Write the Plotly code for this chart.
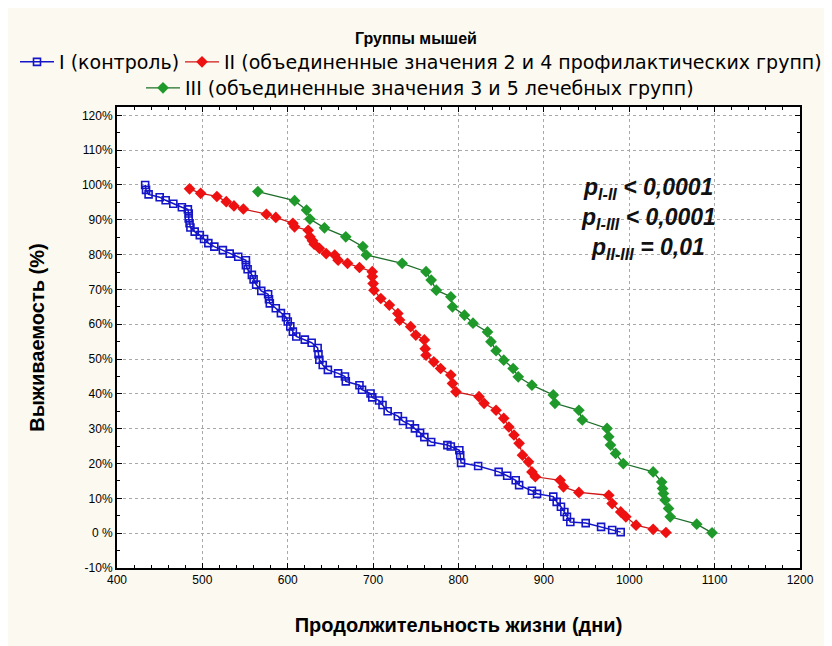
import plotly.graph_objects as go

# ---------------- data ----------------
group1_days = [433, 434, 437, 450, 457, 466, 476, 483, 484, 484, 485, 486, 491, 497, 502, 507, 514, 524,
               532, 542, 551, 551, 553, 558, 560, 563, 569, 577, 578, 579, 586, 592, 598, 600, 603, 606,
               610, 620, 628, 635, 636, 637, 641, 647, 659, 667, 668, 684, 687, 697, 699, 707, 711, 717,
               729, 735, 743, 749, 755, 760, 768, 787, 791, 801, 802, 803, 823, 847, 857, 867, 871, 886,
               892, 911, 915, 920, 924, 927, 931, 949, 967, 980, 990]
group1_surv = [100, 98.6, 97.3, 96.5, 95.6, 94.6, 93.6, 93.0, 91.8, 90.4, 89.0, 87.8, 86.6, 85.6, 84.5,
               83.3, 82.3, 81.3, 80.3, 79.4, 78.4, 77.0, 75.8, 74.2, 72.9, 71.4, 69.6, 68.6, 67.2, 66.0,
               64.6, 63.2, 62.0, 60.8, 59.4, 57.9, 56.5, 55.6, 54.7, 53.2, 51.4, 49.8, 48.3, 46.9, 45.9,
               45.0, 43.6, 42.5, 41.2, 40.1, 39.0, 38.1, 36.8, 35.0, 33.6, 32.2, 31.2, 30.1, 28.8, 27.6,
               26.2, 25.3, 24.9, 23.8, 22.4, 20.2, 19.3, 17.6, 16.5, 15.2, 13.8, 12.2, 11.3, 10.5, 9.0,
               7.6, 6.1, 4.7, 3.2, 2.9, 1.8, 0.9, 0.3]

group2_days = [485, 498, 517, 528, 537, 548, 575, 586, 606, 608, 624, 626, 629, 631, 637, 645, 655, 659,
               670, 684, 699, 699, 700, 701, 709, 719, 729, 731, 744, 750, 760, 761, 762, 771, 779, 791,
               793, 797, 824, 830, 844, 853, 859, 865, 871, 875, 882, 886, 890, 919, 923, 941, 976, 980,
               990, 996, 1008, 1028, 1043]
group2_surv = [98.9, 97.6, 96.7, 95.2, 94.0, 93.1, 91.6, 90.7, 89.0, 88.0, 87.0, 85.1, 84.0, 83.0, 81.8,
               80.3, 79.9, 78.4, 77.5, 76.3, 75.1, 73.7, 71.7, 69.8, 67.4, 65.5, 63.1, 61.2, 59.3, 56.9,
               55.5, 53.0, 51.1, 49.2, 47.3, 45.4, 43.0, 40.6, 39.2, 37.3, 35.3, 33.0, 30.5, 28.2, 25.8,
               22.4, 20.5, 17.6, 16.2, 15.2, 13.3, 11.7, 10.9, 8.5, 6.1, 4.7, 2.3, 1.1, 0.2]

group3_days = [565, 608, 622, 626, 643, 668, 688, 692, 734, 762, 768, 774, 791, 793, 807, 817, 834, 838,
               844, 853, 864, 870, 886, 911, 913, 941, 945, 974, 976, 978, 984, 993, 1028, 1038, 1039,
               1040, 1042, 1046, 1048, 1079, 1097]
group3_surv = [98.1, 95.5, 92.8, 90.2, 87.7, 85.1, 82.3, 79.9, 77.5, 75.1, 72.7, 69.8, 67.9, 65.0, 62.6,
               60.3, 57.8, 55.0, 52.4, 49.7, 47.3, 44.9, 42.5, 39.7, 37.3, 35.3, 32.5, 30.1, 27.7, 25.3,
               22.9, 20.0, 17.6, 14.7, 12.8, 11.4, 9.5, 7.1, 4.7, 2.6, 0.1]

group_names = ["I (контроль)",
               "II (объединенные значения 2 и 4 профилактических групп)",
               "III (объединенные значения 3 и 5 лечебных групп)"]

x_tick_vals = [400, 500, 600, 700, 800, 900, 1000, 1100, 1200]
y_tick_vals = [-10, 0, 10, 20, 30, 40, 50, 60, 70, 80, 90, 100, 110, 120]
y_tick_text = ["-10%", "0 %", "10%", "20%", "30%", "40%", "50%", "60%", "70%", "80%", "90%",
               "100%", "110%", "120%"]

legend_title = "Группы мышей"
x_title = "Продолжительность жизни (дни)"
y_title = "Выживаемость (%)"
p_lines = ["<b><i>p<sub>I-II</sub> &lt; 0,0001</i></b>",
           "<b><i>p<sub>I-III</sub> &lt; 0,0001</i></b>",
           "<b><i>p<sub>II-III</sub> = 0,01</i></b>"]
p_pos_x = [1022, 1022, 1022]
p_pos_y = [99.0, 90.4, 81.8]

FONT = "Liberation Sans, Arial, sans-serif"
WIDE = "DejaVu Sans, Liberation Sans, sans-serif"
FW, FH = 832, 646  # figure size (page adds an 8px body margin)
ML, MR, MT, MB = 109, 40, 99, 86
PW, PH = FW - ML - MR, FH - MT - MB

fig = go.Figure()
fig.add_trace(go.Scatter(
    x=group1_days, y=group1_surv, name=group_names[0], mode="lines+markers",
    line=dict(color="#1414c8", width=1.5),
    marker=dict(symbol="square-open", size=7, color="#1414c8", line=dict(width=1.6, color="#1414c8")),
    legend="legend"))
fig.add_trace(go.Scatter(
    x=group2_days, y=group2_surv, name=group_names[1], mode="lines+markers",
    line=dict(color="#d01818", width=1.3),
    marker=dict(symbol="diamond", size=9, color="#ee1111", line=dict(width=0)),
    legend="legend2"))
fig.add_trace(go.Scatter(
    x=group3_days, y=group3_surv, name=group_names[2], mode="lines+markers",
    line=dict(color="#1e6e2a", width=1.3),
    marker=dict(symbol="diamond", size=9, color="#1f9a2a", line=dict(width=0)),
    legend="legend3"))

for txt, px, py in zip(p_lines, p_pos_x, p_pos_y):
    fig.add_annotation(x=px, y=py, xref="x", yref="y", text=txt, showarrow=False,
                       font=dict(family=FONT, size=23, color="#111111"), xanchor="center", yanchor="middle")

# legend title (placed above the plot area, in paper units)
fig.add_annotation(x=(416 - 8 - ML) / PW, y=1 + (MT - (38 - 8)) / PH, xref="paper", yref="paper",
                   text="<b>" + legend_title + "</b>", showarrow=False,
                   font=dict(family=FONT, size=16, color="black"), xanchor="center", yanchor="middle")

axis_common = dict(
    showline=True, linecolor="black", linewidth=2, mirror="ticks",
    ticks="inside", ticklen=5, tickcolor="black", tickwidth=1,
    showgrid=True, gridcolor="#a8a8a8", griddash="dot", gridwidth=1,
    zeroline=False, tickfont=dict(family=FONT, size=12, color="black"),
    automargin=False,
)

leg_common = dict(orientation="h", xref="container", yref="container", yanchor="middle",
                  font=dict(family=WIDE, size=19, color="black"),
                  bgcolor="rgba(0,0,0,0)", itemwidth=34)

fig.update_layout(
    width=FW, height=FH,
    paper_bgcolor="#fcf9f0", plot_bgcolor="white",
    margin=dict(l=ML, r=MR, t=MT, b=MB, autoexpand=False),
    font=dict(family=FONT, color="black"),
    xaxis=dict(range=[400, 1200], tickvals=x_tick_vals,
               minor=dict(ticks="inside", ticklen=3, dtick=20, tickcolor="black", showgrid=False),
               title=dict(text=x_title, font=dict(family=FONT, size=20, color="black", weight="bold"),
                          standoff=32),
               **axis_common),
    yaxis=dict(range=[-10, 122.4], tickvals=y_tick_vals, ticktext=y_tick_text,
               minor=dict(ticks="inside", ticklen=3, dtick=5, tickcolor="black", showgrid=False),
               title=dict(text=y_title, font=dict(family=FONT, size=20, color="black", weight="bold"),
                          standoff=32),
               **axis_common),
    legend=dict(x=7 / FW, xanchor="left", y=1 - (62 - 8) / FH, **leg_common),
    legend2=dict(x=172 / FW, xanchor="left", y=1 - (62 - 8) / FH, **leg_common),
    legend3=dict(x=(420 - 8) / FW, xanchor="center", y=1 - (88 - 8) / FH, **leg_common),
    showlegend=True,
)

fig.write_html("out.html")
